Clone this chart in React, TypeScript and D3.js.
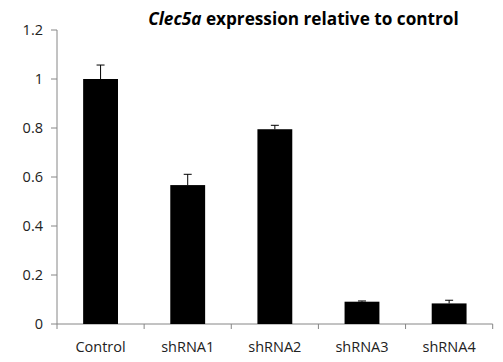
import React from "react";
import * as d3 from "d3";

const categories = ["Control", "shRNA1", "shRNA2", "shRNA3", "shRNA4"];
const values = [1.0, 0.567, 0.795, 0.091, 0.084];
const errors = [0.057, 0.044, 0.016, 0.003, 0.013];
const yTicks = [0, 0.2, 0.4, 0.6, 0.8, 1, 1.2];

const W = 503;
const H = 362;
const left = 57;
const right = 492.7;
const top = 30;
const bottom = 324;

export default function App() {
  const x = d3.scaleBand<string>().domain(categories).range([left, right]).paddingInner(0).paddingOuter(0);
  const y = d3.scaleLinear().domain([0, 1.2]).range([bottom, top]);
  const bw = x.bandwidth() / 2.5;
  const font = "'Open Sans', 'Liberation Sans', sans-serif";
  const axisColor = "#868686";

  return (
    <svg width={W} height={H} style={{ position: "absolute", left: 0, top: 0 }}>
      <rect width={W} height={H} fill="#fff" />
      <text x={303.5} y={25} textAnchor="middle" fontFamily={font} fontSize={17.2} fontWeight="bold" fill="#000">
        <tspan fontStyle="italic">Clec5a</tspan> expression relative to control
      </text>
      {/* y axis */}
      <line x1={left} x2={left} y1={y(1.2)} y2={bottom} stroke={axisColor} />
      {yTicks.map((t) => (
        <g key={t}>
          <line x1={left - 6} x2={left} y1={y(t)} y2={y(t)} stroke={axisColor} />
          <text x={left - 14} y={y(t)} dy="0.35em" textAnchor="end" fontFamily={font} fontSize={14.5} fill="#222">
            {String(t)}
          </text>
        </g>
      ))}
      {/* x axis */}
      <line x1={left} x2={right} y1={bottom} y2={bottom} stroke={axisColor} />
      {categories.map((c) => (
        <line key={"t" + c} x1={x(c)!} x2={x(c)!} y1={bottom} y2={bottom + 5} stroke={axisColor} />
      ))}
      <line x1={right} x2={right} y1={bottom} y2={bottom + 5} stroke={axisColor} />
      {categories.map((c) => (
        <text key={"l" + c} x={x(c)! + x.bandwidth() / 2} y={347} dy="0.35em" textAnchor="middle" fontFamily={font} fontSize={14.5} fill="#222">
          {c}
        </text>
      ))}
      {/* bars with error bars */}
      {categories.map((c, i) => {
        const cx = x(c)! + x.bandwidth() / 2;
        return (
          <g key={"b" + c}>
            <rect x={cx - bw / 2} y={y(values[i])} width={bw} height={bottom - y(values[i])} fill="#000" />
            <line x1={cx} x2={cx} y1={y(values[i])} y2={y(values[i] + errors[i])} stroke="#000" />
            <line x1={cx - 4} x2={cx + 4} y1={y(values[i] + errors[i])} y2={y(values[i] + errors[i])} stroke="#000" />
          </g>
        );
      })}
    </svg>
  );
}
